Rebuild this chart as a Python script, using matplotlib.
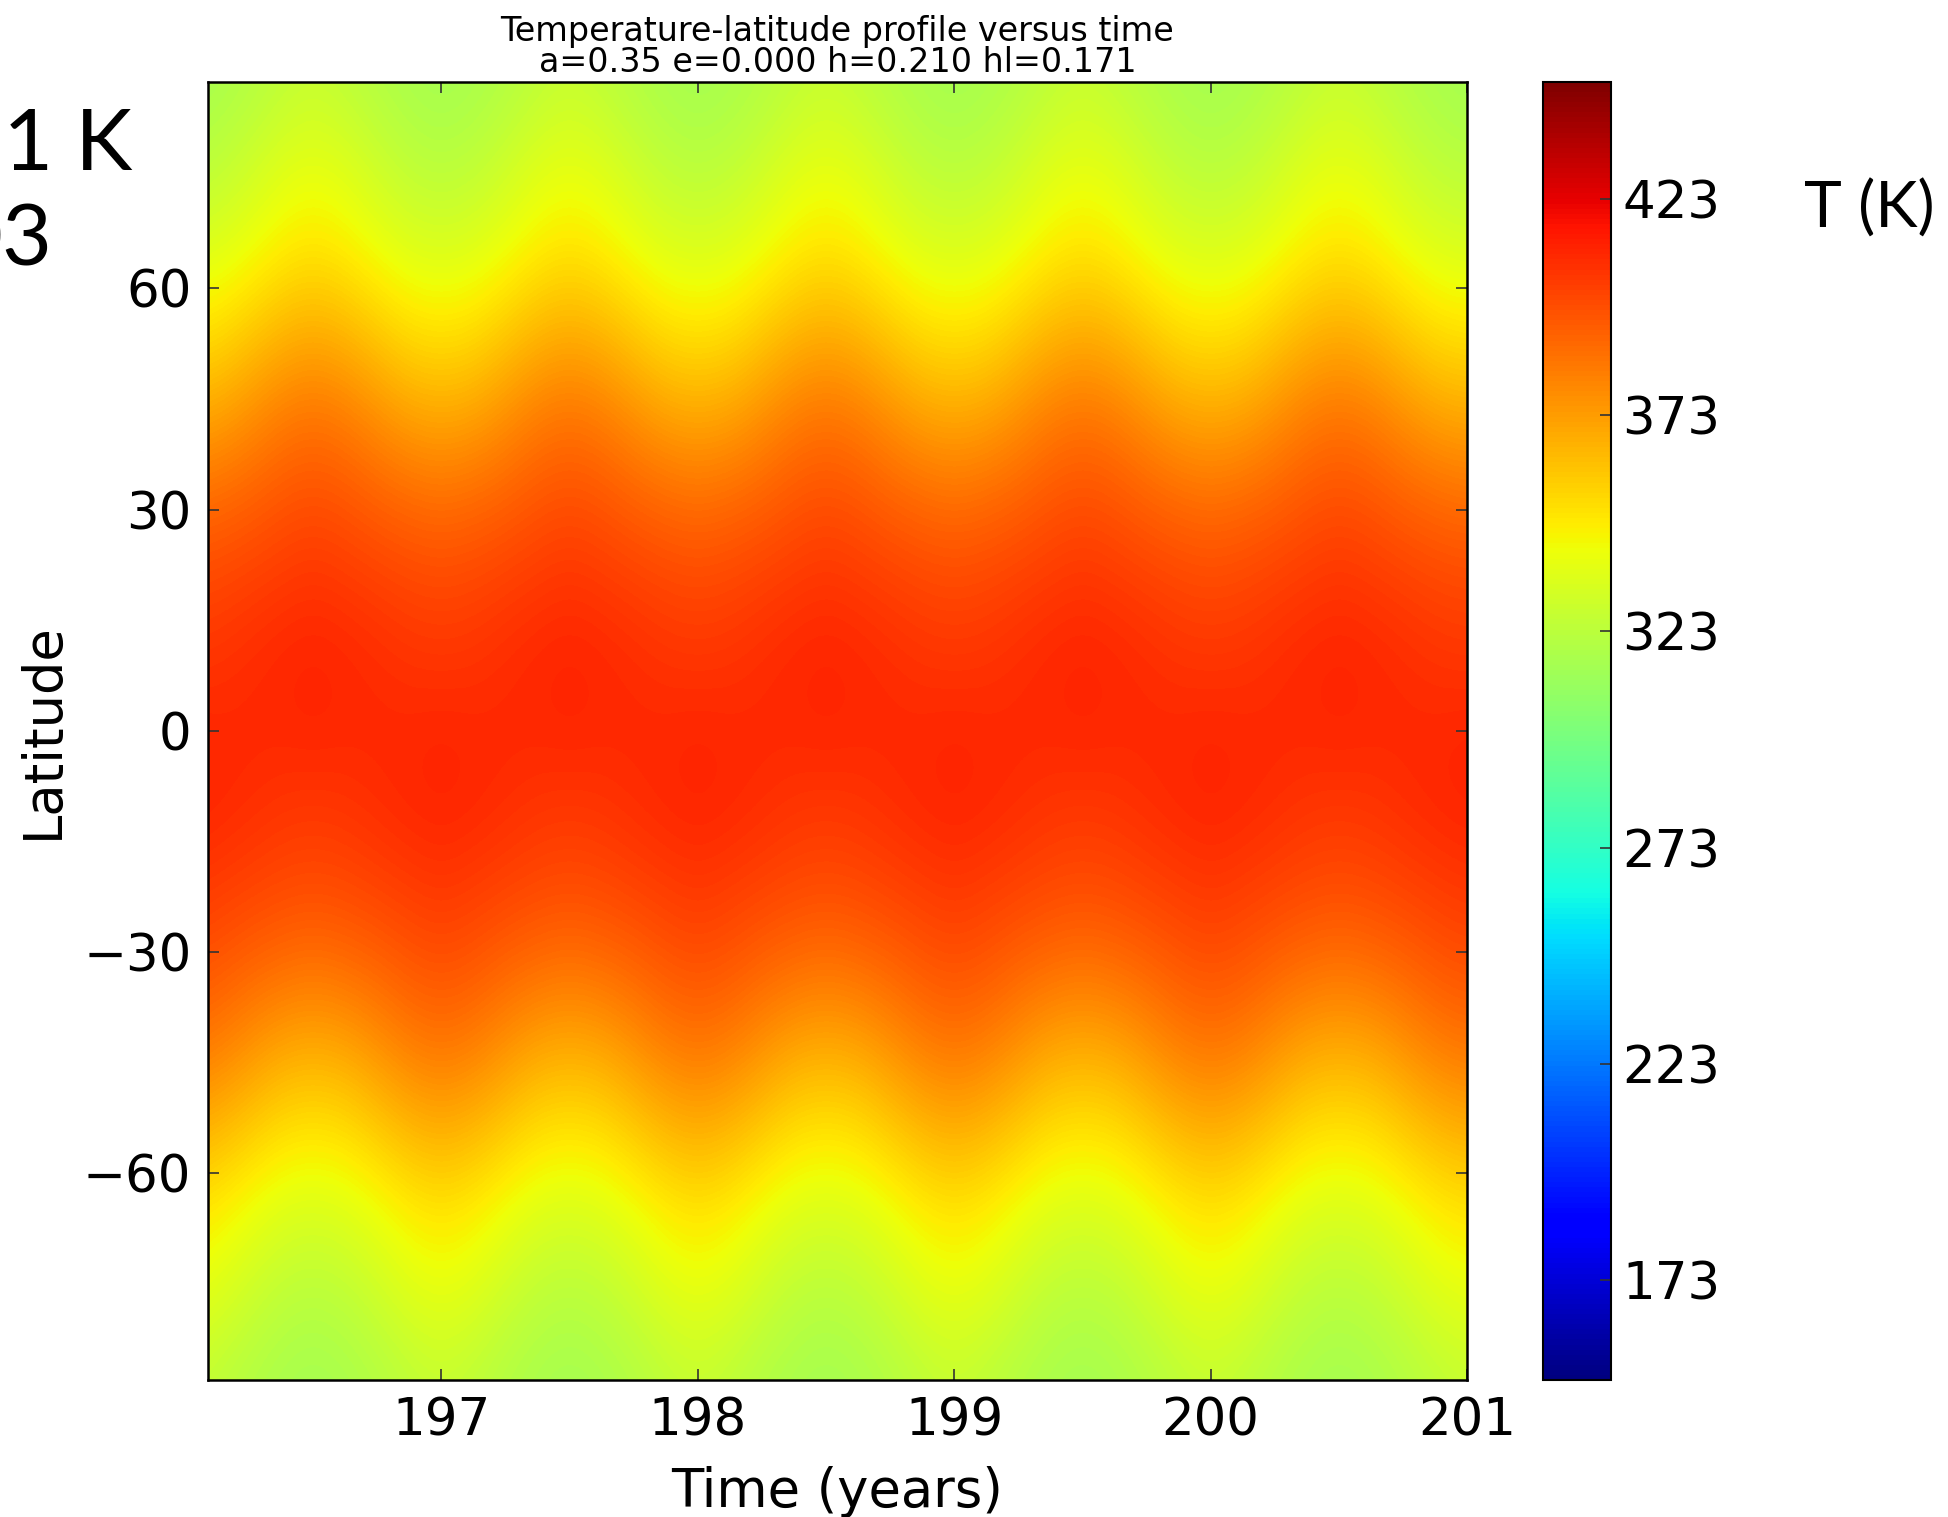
import numpy as np
import matplotlib.pyplot as plt

# one annual cycle (K); rows = latitude, cols = phase of year
years = [196, 197, 198, 199, 200]
phases = [0.0, 0.125, 0.25, 0.375, 0.5, 0.625, 0.75, 0.875]
latitudes = [88, 77, 66, 55, 44, 33, 22, 11, 0, -11, -22, -33, -44, -55, -66, -77, -88]
temp_cycle = np.array([
    [315, 317, 320, 324, 327, 324, 320, 317],
    [322, 324, 329, 335, 338, 335, 329, 324],
    [333, 335, 340, 346, 349, 346, 340, 335],
    [349, 351, 357, 363, 366, 363, 357, 351],
    [367, 369, 375, 381, 384, 381, 375, 369],
    [385, 387, 390, 394, 396, 394, 390, 387],
    [398, 399, 401, 403, 405, 403, 401, 399],
    [405, 406, 408, 410, 411, 410, 408, 406],
    [411, 410, 410, 410, 411, 410, 410, 410],
    [411, 410, 408, 406, 405, 406, 408, 410],
    [405, 403, 401, 399, 398, 399, 401, 403],
    [396, 394, 390, 387, 385, 387, 390, 394],
    [384, 381, 375, 369, 367, 369, 375, 381],
    [366, 363, 357, 351, 349, 351, 357, 363],
    [349, 346, 340, 335, 333, 335, 340, 346],
    [338, 335, 329, 324, 322, 324, 329, 335],
    [327, 324, 320, 317, 315, 317, 320, 324],
])
end_year = 201
cbar_ticks = [173, 223, 273, 323, 373, 423]
lat_ticks = [-60, -30, 0, 30, 60]
time_ticks = [197, 198, 199, 200, 201]

times = [y + p for y in years for p in phases] + [end_year]
T = np.hstack([temp_cycle] * len(years) + [temp_cycle[:, :1]])

dt = phases[1] - phases[0]
dl = latitudes[0] - latitudes[1]

fig = plt.figure(figsize=(19.49, 15.17), dpi=100)
ax = fig.add_axes([0.1067, 0.0903, 0.6460, 0.8557])
im = ax.imshow(T, cmap='jet', vmin=150, vmax=450, aspect='auto', origin='upper',
               interpolation='bicubic',
               extent=[times[0] - dt / 2, times[-1] + dt / 2,
                       latitudes[-1] - dl / 2, latitudes[0] + dl / 2])
ax.set_xlim(196.09, 201)
ax.set_ylim(-88, 88)
ax.set_xticks(time_ticks)
ax.set_yticks(lat_ticks)
ax.tick_params(direction='in', top=True, right=True, length=8, width=1.2,
               color='#333333', labelsize=37, pad=12)
for s in ax.spines.values():
    s.set_linewidth(1.8)
ax.set_xlabel('Time (years)', fontsize=38, labelpad=14)
ax.set_ylabel('Latitude', fontsize=38, labelpad=10)
ax.set_title('Temperature-latitude profile versus time\n'
             'a=0.35 e=0.000 h=0.210 hl=0.171', fontsize=24, pad=7,
             linespacing=0.92)

cax = fig.add_axes([0.7917, 0.0903, 0.0349, 0.8557])
cb = fig.colorbar(im, cax=cax, ticks=cbar_ticks)
cax.tick_params(direction='in', length=8, width=1.2, color='#333333',
                labelsize=37, pad=8)
cb.outline.set_linewidth(1.5)

# slide annotations around the plot
fig.text(1935 / 1949, 1 - 228 / 1517, 'T (K)', fontsize=46, family='Lato',
         ha='right', va='baseline')
fig.text(132 / 1949, 1 - 170 / 1517, '.1 K', fontsize=62, family='Lato',
         ha='right', va='baseline')
fig.text(52 / 1949, 1 - 265 / 1517, '03', fontsize=62, family='Lato',
         ha='right', va='baseline')

fig.savefig('out.png', dpi=100)
